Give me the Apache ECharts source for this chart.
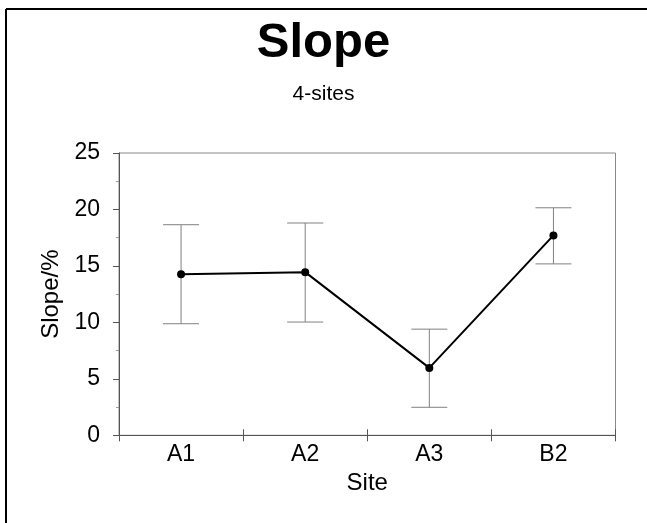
<!DOCTYPE html>
<html>
<head>
<meta charset="utf-8">
<script src="https://cdn.jsdelivr.net/npm/echarts@6/dist/echarts.min.js"></script>
<style>html,body{margin:0;padding:0;background:#fff;}#c{width:647px;height:523px;}</style>
</head>
<body>
<div id="c"></div>
<script>
var sites = ['A1', 'A2', 'A3', 'B2'];
var slopeMean = [14.27, 14.45, 5.97, 17.7];
var errLow = [9.88, 10.03, 2.48, 15.18];
var errHigh = [18.65, 18.8, 9.4, 20.15];
var yTicks = [0, 5, 10, 15, 20, 25];

var chart = echarts.init(document.getElementById('c'), null, {renderer: 'canvas'});
var FONT = 'Liberation Sans, Arial, sans-serif';
var errData = sites.map(function (s, i) { return [i, errLow[i], errHigh[i]]; });

chart.setOption({
  animation: false,
  backgroundColor: '#fff',
  title: [{
    text: 'Slope',
    left: 'center',
    top: 14,
    textStyle: {fontFamily: FONT, fontSize: 49, fontWeight: 'bold', color: '#000'}
  }, {
    text: '4-sites',
    left: 'center',
    top: 79,
    textStyle: {fontFamily: FONT, fontSize: 21, fontWeight: 'normal', color: '#000'}
  }],
  grid: {
    left: 119, right: 31.5, top: 153, bottom: 87.7,
    show: true, borderColor: '#888', borderWidth: 1, containLabel: false
  },
  xAxis: [{
    type: 'category',
    data: sites,
    boundaryGap: true,
    name: 'Site',
    nameLocation: 'middle',
    nameGap: 35,
    nameTextStyle: {fontFamily: FONT, fontSize: 24, color: '#000'},
    axisLine: {lineStyle: {color: '#555', width: 1}},
    axisTick: {show: true, length: 6, lineStyle: {color: '#555'}},
    axisLabel: {fontFamily: FONT, fontSize: 23, color: '#000', margin: 8},
    splitLine: {show: false}
  }, {
    type: 'category',
    data: sites,
    position: 'bottom',
    boundaryGap: true,
    axisLine: {show: false},
    axisTick: {show: true, inside: true, length: 6, lineStyle: {color: '#555'}},
    axisLabel: {show: false},
    splitLine: {show: false}
  }],
  yAxis: {
    type: 'value',
    min: 0, max: 25, interval: 5,
    name: 'Slope/%',
    nameLocation: 'middle',
    nameGap: 46,
    nameTextStyle: {fontFamily: FONT, fontSize: 24, color: '#000'},
    axisLine: {show: true, lineStyle: {color: '#555', width: 1}},
    axisTick: {show: true, length: 6, lineStyle: {color: '#555'}},
    minorTick: {show: true, splitNumber: 2, length: 3, lineStyle: {color: '#999'}},
    axisLabel: {fontFamily: FONT, fontSize: 23, color: '#000', margin: 19,
      formatter: function (v) { return yTicks.indexOf(v) >= 0 ? String(v) : ''; }},
    splitLine: {show: false}
  },
  graphic: [
    {type: 'line', shape: {x1: 6, y1: 9, x2: 647, y2: 9}, style: {stroke: '#000', lineWidth: 2}, z: 100},
    {type: 'line', shape: {x1: 6, y1: 9, x2: 6, y2: 523}, style: {stroke: '#000', lineWidth: 2}, z: 100}
  ],
  series: [{
    type: 'custom',
    data: errData,
    z: 1,
    renderItem: function (params, api) {
      var x = api.value(0);
      var lo = api.coord([x, api.value(1)]);
      var hi = api.coord([x, api.value(2)]);
      var hw = 18;
      var st = {stroke: '#808080', lineWidth: 1};
      return {
        type: 'group',
        children: [
          {type: 'line', shape: {x1: lo[0], y1: lo[1], x2: hi[0], y2: hi[1]}, style: st},
          {type: 'line', shape: {x1: lo[0] - hw, y1: lo[1], x2: lo[0] + hw, y2: lo[1]}, style: st},
          {type: 'line', shape: {x1: hi[0] - hw, y1: hi[1], x2: hi[0] + hw, y2: hi[1]}, style: st}
        ]
      };
    }
  }, {
    type: 'line',
    data: slopeMean,
    z: 5,
    symbol: 'circle',
    symbolSize: 8,
    lineStyle: {color: '#000', width: 2},
    itemStyle: {color: '#000'}
  }]
});
</script>
</body>
</html>
